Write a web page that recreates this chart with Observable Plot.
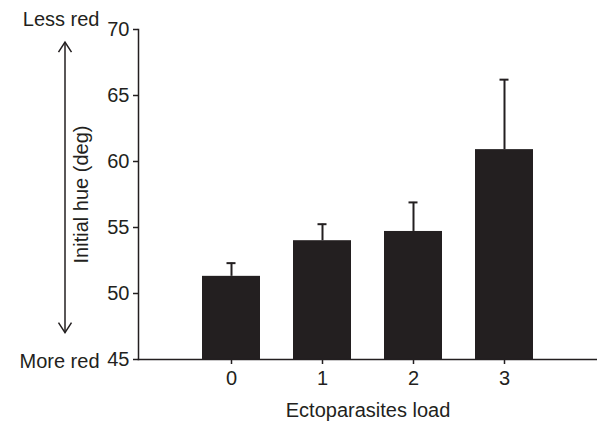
<!DOCTYPE html>
<html>
<head>
<meta charset="utf-8">
<script src="https://cdn.jsdelivr.net/npm/d3@7"></script>
<script src="https://cdn.jsdelivr.net/npm/@observablehq/plot@0.6"></script>
<style>
  html, body { margin: 0; padding: 0; background: #fff; }
</style>
</head>
<body>
<div id="chart"></div>
<script>
// Data
const loads = ["0", "1", "2", "3"];
const means = [51.3, 54.0, 54.7, 60.9];
const upper = [52.3, 55.25, 56.9, 66.2];   // mean + SE
const yTicks = [45, 50, 55, 60, 65, 70];
const yLabel = "Initial hue (deg)";
const xLabel = "Ectoparasites load";
const topNote = "Less red";
const bottomNote = "More red";
const arrowRange = [47, 69];

const data = loads.map((l, i) => ({load: l, mean: means[i], upper: upper[i]}));
const ink = "#231f20";

const plot = Plot.plot({
  width: 597,
  height: 421,
  marginLeft: 138,
  marginRight: 0,
  marginTop: 29,
  marginBottom: 62,
  style: {fontFamily: "'Liberation Sans', Arial, sans-serif", fontSize: "20px", color: ink, background: "#fff"},
  x: {type: "band", domain: loads, paddingInner: 0.36, paddingOuter: 0.68},
  y: {domain: [45, 70]},
  marks: [
    Plot.barY(data, {x: "load", y1: 45, y2: "mean", fill: ink}),
    Plot.ruleX(data, {x: "load", y1: "mean", y2: "upper", stroke: ink, strokeWidth: 2}),
    Plot.tickY(data, {x: "load", y: "upper", stroke: ink, strokeWidth: 2, insetLeft: 24.5, insetRight: 24.5}),
    Plot.axisY({ticks: yTicks, tickSize: 5, tickPadding: 4, tickFormat: d => String(d), label: null, stroke: ink, strokeWidth: 1.5, strokeOpacity: 1}),
    Plot.axisY({ticks: [], label: yLabel, labelAnchor: "center", labelOffset: 65, labelArrow: "none"}),
    Plot.axisX({tickSize: 5, tickPadding: 6, label: null, stroke: ink, strokeWidth: 1.5, strokeOpacity: 1}),
    Plot.axisX({ticks: [], label: xLabel, labelAnchor: "center", labelOffset: 57, labelArrow: "none"}),
    Plot.frame({anchor: "left", stroke: ink, strokeWidth: 1.5}),
    Plot.frame({anchor: "bottom", stroke: ink, strokeWidth: 1.5}),
    Plot.text([topNote], {frameAnchor: "left", y: () => 70, text: d => d, textAnchor: "end", lineAnchor: "middle", dx: -39, dy: -10, fill: ink}),
    Plot.text([bottomNote], {frameAnchor: "left", y: () => 45, text: d => d, textAnchor: "end", lineAnchor: "middle", dx: -39, dy: 2, fill: ink})
  ]
});

document.getElementById("chart").appendChild(plot);

// Double-headed open arrow on the left, positioned via the y scale
const ys = plot.scale("y");
const svg = d3.select(plot);
const ax = 65;
const yTop = ys.apply(arrowRange[1]);
const yBot = ys.apply(arrowRange[0]);
const g = svg.append("g").attr("stroke", ink).attr("fill", "none").attr("stroke-width", 1.5);
g.append("line").attr("x1", ax).attr("x2", ax).attr("y1", yTop).attr("y2", yBot);
g.append("path").attr("d", `M${ax - 6.5},${yTop + 10}L${ax},${yTop}L${ax + 6.5},${yTop + 10}`);
g.append("path").attr("d", `M${ax - 6.5},${yBot - 10}L${ax},${yBot}L${ax + 6.5},${yBot - 10}`);
</script>
</body>
</html>
